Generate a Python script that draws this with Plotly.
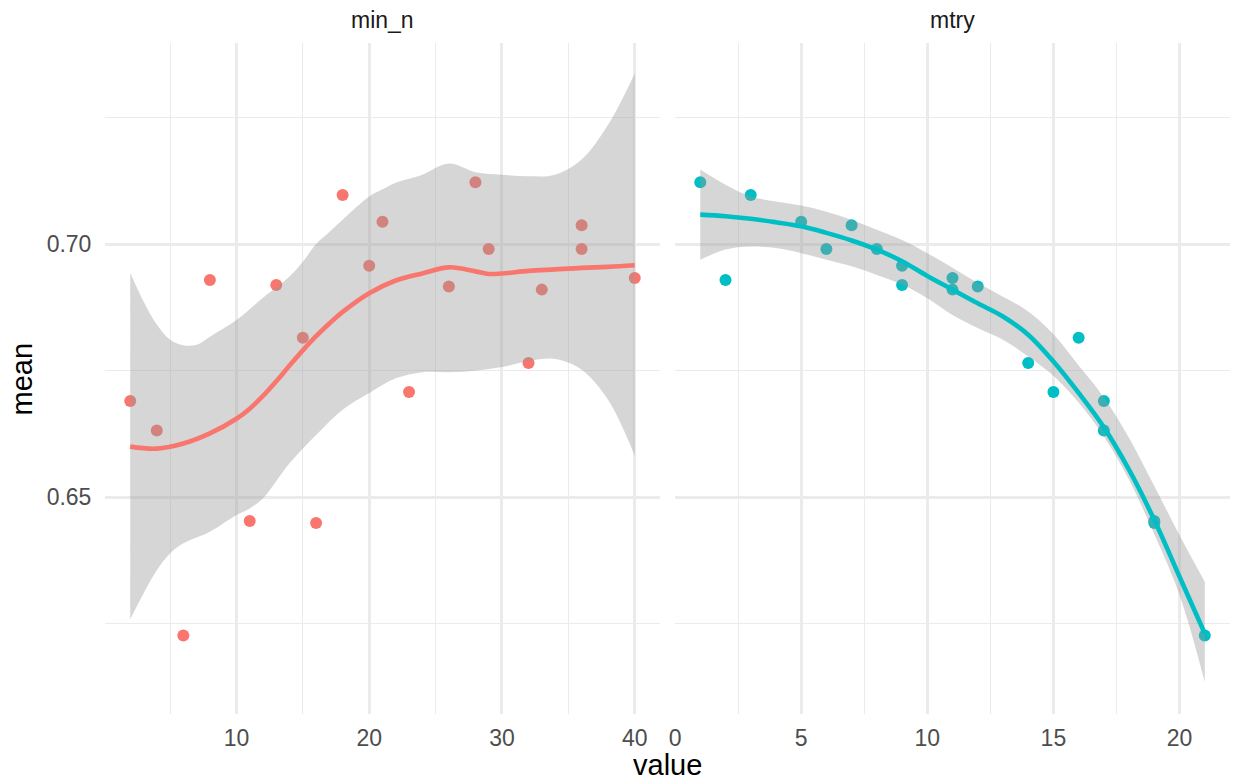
import plotly.graph_objects as go

# ---------------- data ----------------
facets = ["min_n", "mtry"]

min_n_x = [2, 4, 6, 8, 11, 13, 15, 16, 18, 20, 21, 23, 26, 28, 29, 32, 33, 36, 36, 40]
min_n_y = [0.6690, 0.6632, 0.6227, 0.6929, 0.6453, 0.6919, 0.6815, 0.6449, 0.7097, 0.6957,
           0.7044, 0.6708, 0.6916, 0.7122, 0.6990, 0.6765, 0.6910, 0.7037, 0.6990, 0.6933]

mtry_x = [1, 2, 3, 5, 6, 7, 8, 9, 9, 11, 11, 12, 14, 15, 16, 17, 17, 19, 19, 21]
mtry_y = [0.7122, 0.6929, 0.7097, 0.7044, 0.6990, 0.7037, 0.6990, 0.6957, 0.6919, 0.6933,
          0.6910, 0.6916, 0.6765, 0.6708, 0.6815, 0.6690, 0.6632, 0.6453, 0.6449, 0.6227]

# smooth (loess) fit and its confidence band
min_n_fit_x = [2, 4, 6, 8, 10, 11, 12, 13, 14, 15, 16, 17, 18, 20, 22, 24, 26, 28, 29, 30, 32,
               34, 36, 38, 40]
min_n_fit_y = [0.6600, 0.6596, 0.6606, 0.6626, 0.6655, 0.6675, 0.6700, 0.6729, 0.6760, 0.6790,
               0.6818, 0.6843, 0.6866, 0.6903, 0.6928, 0.6942, 0.6954, 0.6946, 0.6941, 0.6942,
               0.6947, 0.6950, 0.6953, 0.6955, 0.6958]
min_n_hi_x = [2, 3, 4, 5, 6, 7, 8, 10, 12, 14, 15, 16, 17, 18, 19, 20, 21, 22, 24, 26, 28, 30,
              32, 34, 36, 38, 40]
min_n_hi_y = [0.6943, 0.6887, 0.6841, 0.6811, 0.6800, 0.6801, 0.6817, 0.6850, 0.6894, 0.6936,
              0.6965, 0.7000, 0.7024, 0.7048, 0.7072, 0.7094, 0.7108, 0.7121, 0.7137, 0.7159,
              0.7142, 0.7137, 0.7134, 0.7137, 0.7167, 0.7236, 0.7337]
min_n_lo_x = [2, 3, 4, 5, 6, 8, 10, 11, 12, 14, 16, 18, 20, 22, 24, 26, 28, 30, 32, 34, 36, 38, 40]
min_n_lo_y = [0.6259, 0.6310, 0.6356, 0.6389, 0.6409, 0.6432, 0.6465, 0.6478, 0.6498, 0.6567,
              0.6623, 0.6673, 0.6706, 0.6735, 0.6747, 0.6747, 0.6750, 0.6757, 0.6769, 0.6773,
              0.6752, 0.6692, 0.6582]

mtry_fit_x = list(range(1, 22))
mtry_fit_y = [0.7058, 0.7055, 0.7050, 0.7043, 0.7035, 0.7022, 0.7007, 0.6989, 0.6966, 0.6937,
              0.6910, 0.6883, 0.6857, 0.6821, 0.6768, 0.6706, 0.6638, 0.6554, 0.6455, 0.6343, 0.6231]
mtry_hi_y = [0.7147, 0.7117, 0.7094, 0.7084, 0.7076, 0.7064, 0.7048, 0.7028, 0.7008, 0.6982,
             0.6953, 0.6923, 0.6896, 0.6867, 0.6822, 0.6760, 0.6697, 0.6617, 0.6522, 0.6425, 0.6333]
mtry_lo_y = [0.6969, 0.6989, 0.6995, 0.6992, 0.6982, 0.6969, 0.6956, 0.6939, 0.6920, 0.6893,
             0.6860, 0.6834, 0.6811, 0.6778, 0.6740, 0.6687, 0.6620, 0.6534, 0.6427, 0.6307, 0.6135]

y_ticks = [0.65, 0.70]
y_ticktext = ["0.65", "0.70"]
y_minor = [0.625, 0.675, 0.725]
x1_ticks = [10, 20, 30, 40]
x1_minor = [5, 15, 25, 35]
x2_ticks = [0, 5, 10, 15, 20]
x2_minor = [2.5, 7.5, 12.5, 17.5]

# ---------------- style ----------------
RED = "#F8766D"
TEAL = "#00BFC4"
RIB = "rgba(153,153,153,0.4)"
GRID = "#EBEBEB"
FONT = "Liberation Sans, Arial, sans-serif"
MAJ_W = 2.5
MIN_W = 1.2

fig = go.Figure()


def add_panel(xp, yp, fx, fy, hx, hy, lx, ly, color, xa, ya):
    fig.add_trace(go.Scatter(x=xp, y=yp, mode="markers",
                             marker=dict(color=color, size=12, line=dict(width=0)),
                             xaxis=xa, yaxis=ya, showlegend=False, hoverinfo="skip"))
    fig.add_trace(go.Scatter(x=lx, y=ly, mode="lines",
                             line=dict(width=0, shape="spline", color="rgba(0,0,0,0)"),
                             xaxis=xa, yaxis=ya, showlegend=False, hoverinfo="skip"))
    fig.add_trace(go.Scatter(x=hx, y=hy, mode="lines",
                             line=dict(width=0, shape="spline", color="rgba(0,0,0,0)"),
                             fill="tonexty", fillcolor=RIB,
                             xaxis=xa, yaxis=ya, showlegend=False, hoverinfo="skip"))
    fig.add_trace(go.Scatter(x=fx, y=fy, mode="lines",
                             line=dict(color=color, width=4.6, shape="spline"),
                             xaxis=xa, yaxis=ya, showlegend=False, hoverinfo="skip"))


add_panel(min_n_x, min_n_y, min_n_fit_x, min_n_fit_y, min_n_hi_x, min_n_hi_y,
          min_n_lo_x, min_n_lo_y, RED, "x", "y")
add_panel(mtry_x, mtry_y, mtry_fit_x, mtry_fit_y, mtry_fit_x, mtry_hi_y,
          mtry_fit_x, mtry_lo_y, TEAL, "x2", "y2")

tickfont = dict(family=FONT, size=23, color="#4D4D4D")
common_x = dict(showgrid=True, gridcolor=GRID, gridwidth=MAJ_W, zeroline=False, showline=False,
                ticks="outside", ticklen=3, tickcolor="rgba(0,0,0,0)", tickfont=tickfont)

fig.update_layout(
    width=1233, height=782,
    margin=dict(l=105, r=3, t=43, b=68),
    paper_bgcolor="white", plot_bgcolor="white",
    font=dict(family=FONT),
    showlegend=False,
    xaxis=dict(domain=[0, 0.4933], range=[0.1, 41.9], tickmode="array", tickvals=x1_ticks,
               minor=dict(tickvals=x1_minor, showgrid=True, gridcolor=GRID, gridwidth=MIN_W),
               anchor="y", **common_x),
    xaxis2=dict(domain=[0.5067, 1], range=[0, 22], tickmode="array", tickvals=x2_ticks,
                minor=dict(tickvals=x2_minor, showgrid=True, gridcolor=GRID, gridwidth=MIN_W),
                anchor="y2", **common_x),
    yaxis=dict(domain=[0, 1], range=[0.6072, 0.7397], tickmode="array", tickvals=y_ticks,
               ticktext=y_ticktext,
               minor=dict(tickvals=y_minor, showgrid=True, gridcolor=GRID, gridwidth=MIN_W),
               showgrid=True, gridcolor=GRID, gridwidth=MAJ_W, zeroline=False, showline=False,
               ticks="outside", ticklen=8, tickcolor="rgba(0,0,0,0)", tickfont=tickfont,
               anchor="x"),
    yaxis2=dict(domain=[0, 1], matches="y", range=[0.6072, 0.7397], tickmode="array",
                tickvals=y_ticks,
                minor=dict(tickvals=y_minor, showgrid=True, gridcolor=GRID, gridwidth=MIN_W),
                showgrid=True, gridcolor=GRID, gridwidth=MAJ_W, zeroline=False, showline=False,
                showticklabels=False, anchor="x2"),
)

annotations = [
    dict(text=facets[0], x=0.2467, y=1.034, xref="paper", yref="paper", showarrow=False,
         xanchor="center", yanchor="middle", font=dict(family=FONT, size=23, color="#1A1A1A")),
    dict(text=facets[1], x=0.7533, y=1.034, xref="paper", yref="paper", showarrow=False,
         xanchor="center", yanchor="middle", font=dict(family=FONT, size=23, color="#1A1A1A")),
    dict(text="value", x=0.5, y=-0.0767, xref="paper", yref="paper", showarrow=False,
         borderpad=0, xanchor="center", yanchor="middle",
         font=dict(family=FONT, size=29, color="black")),
    dict(text="mean", x=-0.0738, y=0.5, xref="paper", yref="paper", showarrow=False,
         textangle=-90, xanchor="center", yanchor="middle",
         font=dict(family=FONT, size=29, color="black")),
]
fig.update_layout(annotations=annotations)

fig.write_html("out.html")
